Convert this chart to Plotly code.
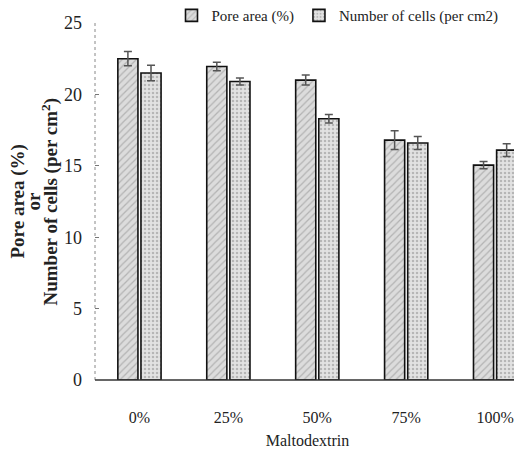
import plotly.graph_objects as go

categories = ["0%", "25%", "50%", "75%", "100%"]
pore_area = [22.5, 21.95, 21.0, 16.8, 15.05]
pore_err = [0.5, 0.3, 0.35, 0.65, 0.25]
cells = [21.5, 20.9, 18.3, 16.6, 16.1]
cells_err = [0.55, 0.25, 0.3, 0.45, 0.45]

FONT = "Liberation Serif"
L, T = 87, 15  # page has an 8px body margin

fig = go.Figure()
fig.add_trace(go.Bar(
    x=categories, y=pore_area, name="Pore area (%)",
    marker=dict(color="#d6d6d6", line=dict(color="#111", width=1.6),
                pattern=dict(shape="/", fgcolor="#8a8a8a", bgcolor="#dcdcdc", size=5, solidity=0.25)),
    error_y=dict(type="data", array=pore_err, color="#555", thickness=1.5, width=4),
))
fig.add_trace(go.Bar(
    x=categories, y=cells, name="Number of cells (per cm2)",
    marker=dict(color="#d6d6d6", line=dict(color="#111", width=1.6),
                pattern=dict(shape=".", fgcolor="#8a8a8a", bgcolor="#e2e2e2", size=4, solidity=0.3)),
    error_y=dict(type="data", array=cells_err, color="#555", thickness=1.5, width=4),
))

fig.update_layout(
    width=514, height=452,
    margin=dict(l=L, r=2, t=T, b=80, autoexpand=False),
    paper_bgcolor="white", plot_bgcolor="white",
    barmode="group", bargap=0.48, bargroupgap=0.13,
    font=dict(family=FONT, size=16, color="#222"),
    showlegend=True,
    legend=dict(orientation="h", x=0.18, y=1.067, xanchor="left", yanchor="top",
                font=dict(family=FONT, size=15, color="#222"),
                itemwidth=30, bgcolor="rgba(0,0,0,0)"),
    xaxis=dict(range=[-0.5, 4.28], showline=False, ticks="", showgrid=False,
               ticklabelstandoff=26, tickfont=dict(family=FONT, size=16),
               title=dict(text="Maltodextrin", font=dict(family=FONT, size=16), standoff=9)),
    yaxis=dict(range=[0, 25], dtick=5, showgrid=False, zeroline=False, showline=False,
               ticks="inside", ticklen=4, tickcolor="#777", tickwidth=1,
               tickfont=dict(family=FONT, size=18), ticklabelstandoff=12),
)

# axis lines
fig.add_shape(type="line", xref="paper", yref="paper", x0=0, x1=0, y0=0, y1=1,
              line=dict(color="#888", width=1, dash="dot"))
fig.add_shape(type="line", xref="paper", yref="paper", x0=0, x1=1, y0=0, y1=0,
              line=dict(color="#333", width=1.5))

# y-axis title lines (page x positions minus 8px body offset)
for text, px in [("<b>Pore area (%)</b>", 9), ("<b>or</b>", 25), ("<b>Number of cells (per cm<sup>2</sup>)</b>", 42)]:
    fig.add_annotation(text=text, xref="paper", yref="paper",
                       x=(px - L) / 425, y=0.5, xanchor="center", yanchor="middle",
                       textangle=-90, showarrow=False,
                       font=dict(family=FONT, size=19, color="#222"))

fig.write_html("out.html")
